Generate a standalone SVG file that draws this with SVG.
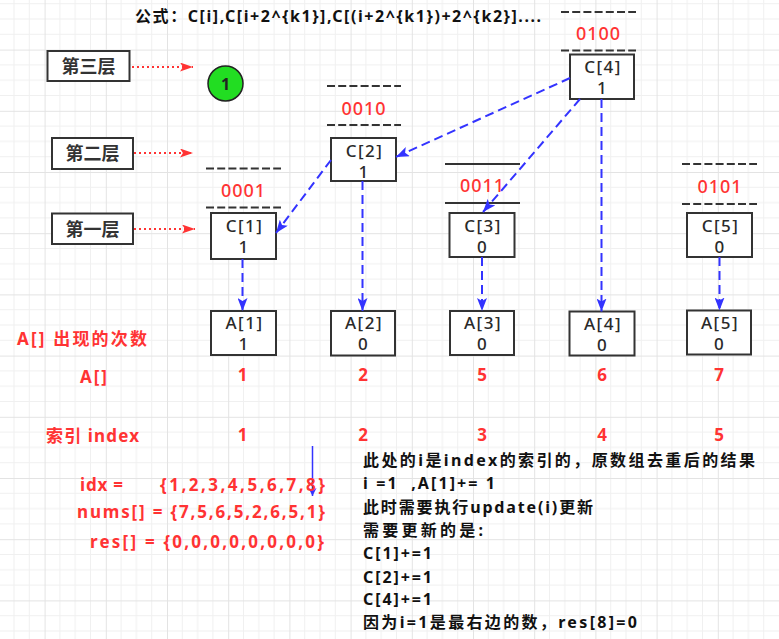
<svg xmlns="http://www.w3.org/2000/svg" width="779" height="639" viewBox="0 0 779 639">
<defs>
<pattern id="grid" patternUnits="userSpaceOnUse" x="44.6" y="49.6" width="61.2" height="61.2">
<path d="M15.3,0V61.2M30.6,0V61.2M45.9,0V61.2M0,15.3H61.2M0,30.6H61.2M0,45.9H61.2" stroke="#f0f0f0" stroke-width="1" fill="none"/>
<path d="M0.5,0V61.2M0,0.5H61.2" stroke="#e3e3e3" stroke-width="1" fill="none"/>
</pattern>
<marker id="bh" markerUnits="userSpaceOnUse" viewBox="0 0 14 10" markerWidth="14" markerHeight="10" refX="13" refY="5" orient="auto"><path d="M0,0 L13,5 L0,10 L3,5 z" fill="#3333ff"/></marker>
<marker id="bs" markerUnits="userSpaceOnUse" viewBox="0 0 8 8" markerWidth="8" markerHeight="8" refX="8" refY="4" orient="auto"><path d="M0,0 L8,4 L0,8 L2,4 z" fill="#3333ff"/></marker>
<marker id="rh" markerUnits="userSpaceOnUse" viewBox="0 0 14 9" markerWidth="14" markerHeight="9" refX="13" refY="4.5" orient="auto"><path d="M0,0 L13,4.5 L0,9 L3,4.5 z" fill="#ff3333"/></marker>
</defs>
<style>
text{font-family:"Noto Sans","Noto Sans CJK SC",sans-serif}
.box{fill:#fff;stroke:#333;stroke-width:2}
.bt{font-size:17px;fill:#2a2a2a;text-anchor:middle;letter-spacing:1.5px;font-weight:500}
.bin{font-size:18px;fill:#ff3333;text-anchor:middle;letter-spacing:1px;font-weight:500}
.dl{stroke:#333;stroke-width:2;stroke-dasharray:8 3.2}
.sl{stroke:#333;stroke-width:2}
.red{fill:#ff3333;font-weight:bold;font-size:17px}
.num{fill:#ff3333;font-weight:bold;font-size:17px;text-anchor:middle}
.blk{fill:#111;font-weight:bold;font-size:16px}
.lay{font-size:18px;font-weight:bold;fill:#333;text-anchor:middle}
.conn{stroke:#3333ff;stroke-width:2;stroke-dasharray:9 5;fill:none;marker-end:url(#bh)}
.dot{stroke:#ff3333;stroke-width:2;stroke-dasharray:2 3;fill:none;marker-end:url(#rh)}
</style>
<rect width="779" height="639" fill="#fff"/>
<rect width="779" height="639" fill="url(#grid)"/>

<text id="title" class="blk" x="135" y="22" textLength="406" lengthAdjust="spacing">公式：C[i],C[i+2^{k1}],C[(i+2^{k1})+2^{k2}]....</text>

<g id="layer3"><rect class="box" x="47.5" y="51" width="82" height="30"/><text class="lay" x="88.5" y="73">第三层</text></g>
<g id="layer2"><rect class="box" x="52" y="138" width="81" height="31"/><text class="lay" x="92.5" y="160">第二层</text></g>
<g id="layer1"><rect class="box" x="52" y="213.5" width="81" height="30.5"/><text class="lay" x="92.5" y="235.5">第一层</text></g>

<g id="circle"><circle cx="225.5" cy="83.5" r="17.5" fill="#22dd22" stroke="#222" stroke-width="1.5"/><text x="225.5" y="89.5" text-anchor="middle" font-size="16" font-weight="bold" fill="#222">1</text></g>

<g id="C1">
<line class="dl" x1="206" y1="168.5" x2="281" y2="168.5"/>
<text class="bin" x="243.5" y="196.5">0001</text>
<line class="dl" x1="206" y1="207.5" x2="281" y2="207.5"/>
<rect class="box" x="211" y="213" width="65" height="46"/>
<text class="bt" x="244.5" y="232">C[1]</text><text class="bt" x="244" y="253">1</text>
</g>
<g id="C2">
<line class="dl" x1="327" y1="86" x2="401" y2="86"/>
<text class="bin" x="364" y="114.5">0010</text>
<line class="dl" x1="327" y1="125" x2="401" y2="125"/>
<rect class="box" x="331" y="138" width="65" height="43"/>
<text class="bt" x="364.5" y="157">C[2]</text><text class="bt" x="364" y="178">1</text>
</g>
<g id="C3">
<line class="sl" x1="445" y1="164" x2="520" y2="164"/>
<text class="bin" x="482.5" y="191.5">0011</text>
<line class="sl" x1="445" y1="203" x2="520" y2="203"/>
<rect class="box" x="449.5" y="213" width="65" height="44"/>
<text class="bt" x="483" y="232">C[3]</text><text class="bt" x="482.5" y="253">0</text>
</g>
<g id="C4">
<line class="dl" x1="561" y1="12" x2="636" y2="12"/>
<text class="bin" x="598.5" y="39.5">0100</text>
<line class="dl" x1="561" y1="50.5" x2="636" y2="50.5"/>
<rect class="box" x="570" y="54.5" width="64" height="44.5"/>
<text class="bt" x="603" y="73">C[4]</text><text class="bt" x="602.5" y="94">1</text>
</g>
<g id="C5">
<line class="dl" x1="682" y1="164" x2="757" y2="164"/>
<text class="bin" x="720" y="192.5">0101</text>
<line class="dl" x1="682" y1="204" x2="757" y2="204"/>
<rect class="box" x="687" y="213" width="65" height="44"/>
<text class="bt" x="720.5" y="232">C[5]</text><text class="bt" x="720" y="253">0</text>
</g>

<g id="A1"><rect class="box" x="211" y="311" width="65" height="44"/><text class="bt" x="244.5" y="329">A[1]</text><text class="bt" x="244" y="350">1</text></g>
<g id="A2"><rect class="box" x="331" y="311" width="64" height="44.5"/><text class="bt" x="364" y="329">A[2]</text><text class="bt" x="363.5" y="350">0</text></g>
<g id="A3"><rect class="box" x="450" y="311" width="64" height="44"/><text class="bt" x="483" y="329">A[3]</text><text class="bt" x="482.5" y="350">0</text></g>
<g id="A4"><rect class="box" x="569.5" y="311.5" width="65" height="44"/><text class="bt" x="603" y="329.5">A[4]</text><text class="bt" x="602.5" y="350.5">0</text></g>
<g id="A5"><rect class="box" x="687" y="310.5" width="64" height="44"/><text class="bt" x="720" y="328.5">A[5]</text><text class="bt" x="719.5" y="349.5">0</text></g>

<g id="connectors">
<line class="dot" x1="132" y1="67" x2="193" y2="67"/>
<line class="dot" x1="134" y1="153" x2="193" y2="153"/>
<line class="dot" x1="134" y1="229" x2="195" y2="229"/>
<line class="conn" x1="570" y1="78" x2="396" y2="157"/>
<line class="conn" x1="331" y1="160" x2="276" y2="233"/>
<line class="conn" x1="580" y1="99" x2="483" y2="212"/>
<line class="conn" x1="242.5" y1="259" x2="242.5" y2="311"/>
<line class="conn" x1="362.5" y1="181" x2="362.5" y2="311"/>
<line class="conn" x1="482" y1="257" x2="482" y2="311"/>
<line class="conn" x1="601.5" y1="99" x2="601.5" y2="311.5"/>
<line class="conn" x1="719.5" y1="257" x2="719.5" y2="310.5"/>
<line x1="312.5" y1="446" x2="312.5" y2="496" stroke="#3333ff" stroke-width="1.5" marker-end="url(#bs)"/>
</g>

<g id="labels">
<text class="red" x="17" y="345" textLength="130" lengthAdjust="spacing">A[] 出现的次数</text>
<text class="red" x="80" y="382.5" textLength="27" lengthAdjust="spacing">A[]</text>
<text class="red" x="46" y="442" textLength="93" lengthAdjust="spacing">索引 index</text>
<text class="num" x="242.5" y="381">1</text>
<text class="num" x="363" y="381">2</text>
<text class="num" x="482" y="381">5</text>
<text class="num" x="602" y="381">6</text>
<text class="num" x="719" y="381">7</text>
<text class="num" x="242.5" y="441">1</text>
<text class="num" x="363" y="441">2</text>
<text class="num" x="482" y="441">3</text>
<text class="num" x="602" y="441">4</text>
<text class="num" x="719" y="441">5</text>
<text class="red" x="80" y="491" textLength="43" lengthAdjust="spacing">idx =</text>
<text class="red" x="160" y="491" textLength="165" lengthAdjust="spacing">{1,2,3,4,5,6,7,8}</text>
<text class="red" x="77" y="517.5" textLength="248" lengthAdjust="spacing">nums[] = {7,5,6,5,2,6,5,1}</text>
<text class="red" x="90" y="547.5" textLength="234" lengthAdjust="spacing">res[] = {0,0,0,0,0,0,0,0}</text>
</g>

<g id="note">
<text class="blk" x="363" y="466" textLength="392" lengthAdjust="spacing">此处的i是index的索引的，原数组去重后的结果</text>
<text class="blk" x="363" y="489.3" textLength="132" lengthAdjust="spacing" xml:space="preserve">i =1  ,A[1]+= 1</text>
<text class="blk" x="363" y="512.7" textLength="230" lengthAdjust="spacing">此时需要执行update(i)更新</text>
<text class="blk" x="363" y="536" textLength="120" lengthAdjust="spacing">需要更新的是:</text>
<text class="blk" x="363" y="559.3" textLength="69" lengthAdjust="spacing">C[1]+=1</text>
<text class="blk" x="363" y="582.7" textLength="69" lengthAdjust="spacing">C[2]+=1</text>
<text class="blk" x="363" y="605.3" textLength="69" lengthAdjust="spacing">C[4]+=1</text>
<text class="blk" x="363" y="627.7" textLength="274" lengthAdjust="spacing">因为i=1是最右边的数，res[8]=0</text>
</g>
</svg>
